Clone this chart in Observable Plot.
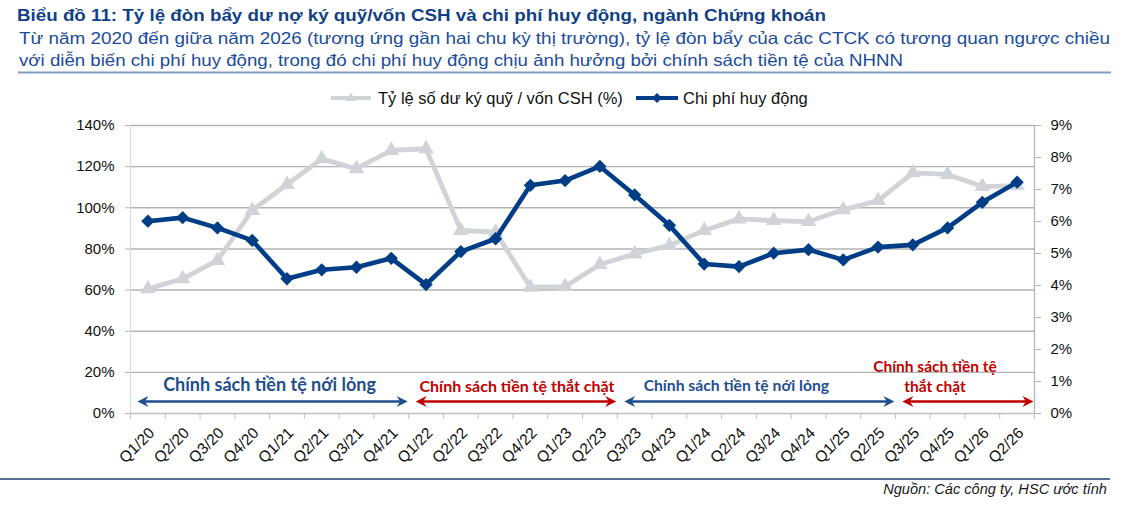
<!DOCTYPE html>
<html><head><meta charset="utf-8">
<script src="https://cdn.jsdelivr.net/npm/d3@7"></script>
<script src="https://cdn.jsdelivr.net/npm/@observablehq/plot@0.6"></script>
<style>
body{margin:0;background:#fff;width:1143px;height:511px;position:relative;overflow:hidden;font-family:"Liberation Sans",Arial,sans-serif;}
#header{position:absolute;left:0;top:0;}
#legend{position:absolute;top:87px;left:0;width:1143px;height:22px;font-size:16.5px;color:#111;}
#legend .item{position:absolute;top:0;display:flex;align-items:center;height:22px;white-space:nowrap;}
#chart{position:absolute;left:0;top:110px;}
#foot{position:absolute;left:0;top:470px;}
</style></head><body>
<svg id="header" width="1143" height="80"></svg>
<div id="legend"></div>
<div id="chart"></div>
<svg id="foot" width="1143" height="41"></svg>
<script>
// ---------- data ----------
const titleText = "Biểu đồ 11: Tỷ lệ đòn bẩy dư nợ ký quỹ/vốn CSH và chi phí huy động, ngành Chứng khoán";
const subtitleLines = [
  "Từ năm 2020 đến giữa năm 2026 (tương ứng gần hai chu kỳ thị trường), tỷ lệ đòn bẩy của các CTCK có tương quan ngược chiều",
  "với diễn biến chi phí huy động, trong đó chi phí huy động chịu ảnh hưởng bởi chính sách tiền tệ của NHNN"
];
const sourceText = "Nguồn: Các công ty, HSC ước tính";
const seriesNames = ["Tỷ lệ số dư ký quỹ / vốn CSH (%)", "Chi phí huy động"];

const quarters = ["Q1/20","Q2/20","Q3/20","Q4/20","Q1/21","Q2/21","Q3/21","Q4/21",
  "Q1/22","Q2/22","Q3/22","Q4/22","Q1/23","Q2/23","Q3/23","Q4/23",
  "Q1/24","Q2/24","Q3/24","Q4/24","Q1/25","Q2/25","Q3/25","Q4/25","Q1/26","Q2/26"];
// Margin lending / equity ratio (%), left axis
const marginRatio = [60.6,65.5,74.4,98.7,111.3,123.8,119.0,127.9,128.7,89.0,88.1,61.4,61.7,72.4,
  77.6,81.7,89.0,94.6,93.8,93.3,99.0,103.5,117.0,116.2,110.3,110.8];
// Funding cost (%), right axis
const fundingCost = [6.01,6.12,5.80,5.41,4.21,4.49,4.57,4.85,4.03,5.06,5.46,7.13,7.28,7.72,
  6.83,5.88,4.67,4.59,5.01,5.12,4.80,5.20,5.27,5.80,6.60,7.23];

const leftTicks = [0,20,40,60,80,100,120,140];
const rightTicks = [0,1,2,3,4,5,6,7,8,9];

const periods = [
  {label:"Chính sách tiền tệ nới lỏng", from:"Q1/20", to:"Q4/21", policy:"loose"},
  {label:"Chính sách tiền tệ thắt chặt", from:"Q1/22", to:"Q2/23", policy:"tight"},
  {label:"Chính sách tiền tệ nới lỏng", from:"Q3/23", to:"Q2/25", policy:"loose"},
  {label:"Chính sách tiền tệ\nthắt chặt", from:"Q3/25", to:"Q2/26", policy:"tight"}
];

// ---------- styles ----------
const GRAY = "#d0d3d8", BLUE = "#003d87";
const policyColor = {loose:"#1f4e8f", tight:"#c00000"};
const k = 140 / 9; // right-axis (%) to left-axis units
const rows = quarters.map((q,i)=>({i, q, ratio: marginRatio[i], cost: fundingCost[i]}));
const idx = q => quarters.indexOf(q);

// ---------- header ----------
const hdr = d3.select("#header");
hdr.append("text").attr("x",17).attr("y",21).attr("font-size",16).attr("font-weight","bold")
  .attr("fill","#123f86").attr("textLength",809).attr("lengthAdjust","spacingAndGlyphs").text(titleText);
hdr.append("text").attr("x",19).attr("y",43.5).attr("font-size",16.5).attr("fill","#1a4c9c")
  .attr("textLength",1091).attr("lengthAdjust","spacingAndGlyphs").text(subtitleLines[0]);
hdr.append("text").attr("x",19).attr("y",65.5).attr("font-size",16.5).attr("fill","#1a4c9c")
  .attr("textLength",884).attr("lengthAdjust","spacingAndGlyphs").text(subtitleLines[1]);
hdr.append("line").attr("x1",18).attr("x2",1111).attr("y1",72.5).attr("y2",72.5)
  .attr("stroke","#7f9cc3").attr("stroke-width",2);

// ---------- legend ----------
const leg = d3.select("#legend");
const it1 = leg.append("div").attr("class","item").style("left","331px");
it1.append("svg").attr("width",40).attr("height",22).style("margin-right","7px").html(
  `<line x1="0" x2="40" y1="11" y2="11" stroke="${GRAY}" stroke-width="4"/>` +
  `<path d="M20,5.5 L25,14 L15,14 Z" fill="${GRAY}"/>`);
it1.append("span").text(seriesNames[0]);
const it2 = leg.append("div").attr("class","item").style("left","636px");
it2.append("svg").attr("width",42).attr("height",22).style("margin-right","5px").html(
  `<line x1="0" x2="42" y1="11" y2="11" stroke="${BLUE}" stroke-width="4"/>` +
  `<path d="M21,6 L26,11 L21,16 L16,11 Z" fill="${BLUE}"/>`);
it2.append("span").text(seriesNames[1]);

// ---------- arrowhead symbol (stealth, tip at origin, pointing right) ----------
const stealth = {draw(ctx){ ctx.moveTo(0,0); ctx.lineTo(-11,-5.5); ctx.lineTo(-7.5,0); ctx.lineTo(-11,5.5); ctx.closePath(); }};
const heads = periods.flatMap(p => [
  {x: idx(p.from) - 0.5 + 0.2, rot: 180, c: policyColor[p.policy]},
  {x: idx(p.to) + 0.5 - 0.03, rot: 0, c: policyColor[p.policy]}
]);
const arrowY = 5.8;
const labelShift = [0, 4, -20, -30];
const labelSize = [18, 16, 15.7, 15.5];
const labelY = [14.2, 13.8, 13.8, 18.3];

const chart = Plot.plot({
  width: 1143, height: 363,
  marginLeft: 130, marginRight: 109, marginTop: 15, marginBottom: 60,
  style: {fontFamily: "Liberation Sans, Arial, sans-serif", fontSize: "15px", color: "#000", background: "transparent"},
  x: {type: "linear", domain: [-0.5, quarters.length - 0.5]},
  y: {domain: [0, 140]},
  marks: [
    Plot.gridY(leftTicks.filter(d => d > 0), {stroke: "#b3b3b3", strokeOpacity: 1, strokeWidth: 1.4}),
    Plot.ruleX([-0.5], {stroke: "#d9d9d9", strokeWidth: 1.2}),
    Plot.ruleX([quarters.length - 0.5], {stroke: "#b3b3b3", strokeWidth: 1.2}),
    Plot.ruleY([0], {stroke: "#bfbfbf", strokeWidth: 1.4}),
    Plot.axisY(leftTicks, {anchor: "left", tickSize: 5, tickPadding: 11, tickFormat: d => d + "%",
      stroke: "#b3b3b3", fill: "#111", fontSize: 15, label: null}),
    Plot.axisY(rightTicks.map(v => v * k), {anchor: "right", tickSize: 6, tickPadding: 10,
      tickFormat: d => Math.round(d / k) + "%", stroke: "#b3b3b3", fill: "#111", fontSize: 15, label: null}),
    Plot.axisX(d3.range(-0.5, quarters.length, 1), {anchor: "bottom", tickSize: 6, tickFormat: () => "",
      stroke: "#bfbfbf", label: null}),
    Plot.axisX(d3.range(quarters.length), {anchor: "bottom", tickSize: 0, tickPadding: 17, tickRotate: -45,
      dx: 4, tickFormat: i => quarters[i], fill: "#111", fontSize: 15.5, label: null}),
    // series
    Plot.line(rows, {x: "i", y: "ratio", stroke: GRAY, strokeWidth: 4.8}),
    Plot.dot(rows, {x: "i", y: "ratio", symbol: "triangle", r: 5.8, fill: GRAY}),
    Plot.line(rows, {x: "i", y: d => d.cost * k, stroke: BLUE, strokeWidth: 4.6}),
    Plot.dot(rows, {x: "i", y: d => d.cost * k, symbol: "diamond2", r: 6, fill: BLUE}),
    // policy arrows
    Plot.link(periods, {x1: p => idx(p.from) - 0.5 + 0.3, x2: p => idx(p.to) + 0.5 - 0.15,
      y1: arrowY, y2: arrowY, stroke: p => policyColor[p.policy], strokeWidth: 2.6}),
    Plot.dot(heads, {x: "x", y: arrowY, symbol: stealth, rotate: "rot", fill: "c", stroke: null}),
    ...periods.map((p, j) => Plot.text([p], {
      x: d => (idx(d.from) + idx(d.to)) / 2, y: labelY[j], text: "label", dx: labelShift[j],
      fill: policyColor[p.policy], fontSize: labelSize[j], fontWeight: "bold",
      fontFamily: "Lato, 'Open Sans', sans-serif", lineHeight: 1.25
    }))
  ]
});
document.getElementById("chart").appendChild(chart);

// ---------- footer ----------
const ft = d3.select("#foot");
ft.append("line").attr("x1",0).attr("x2",1110).attr("y1",9).attr("y2",9).attr("stroke","#1f3c6e").attr("stroke-width",1.5);
ft.append("text").attr("x",1107).attr("y",24).attr("text-anchor","end").attr("font-size",14.6)
  .attr("font-style","italic").attr("fill","#1a1a1a").text(sourceText);
</script>
</body></html>
